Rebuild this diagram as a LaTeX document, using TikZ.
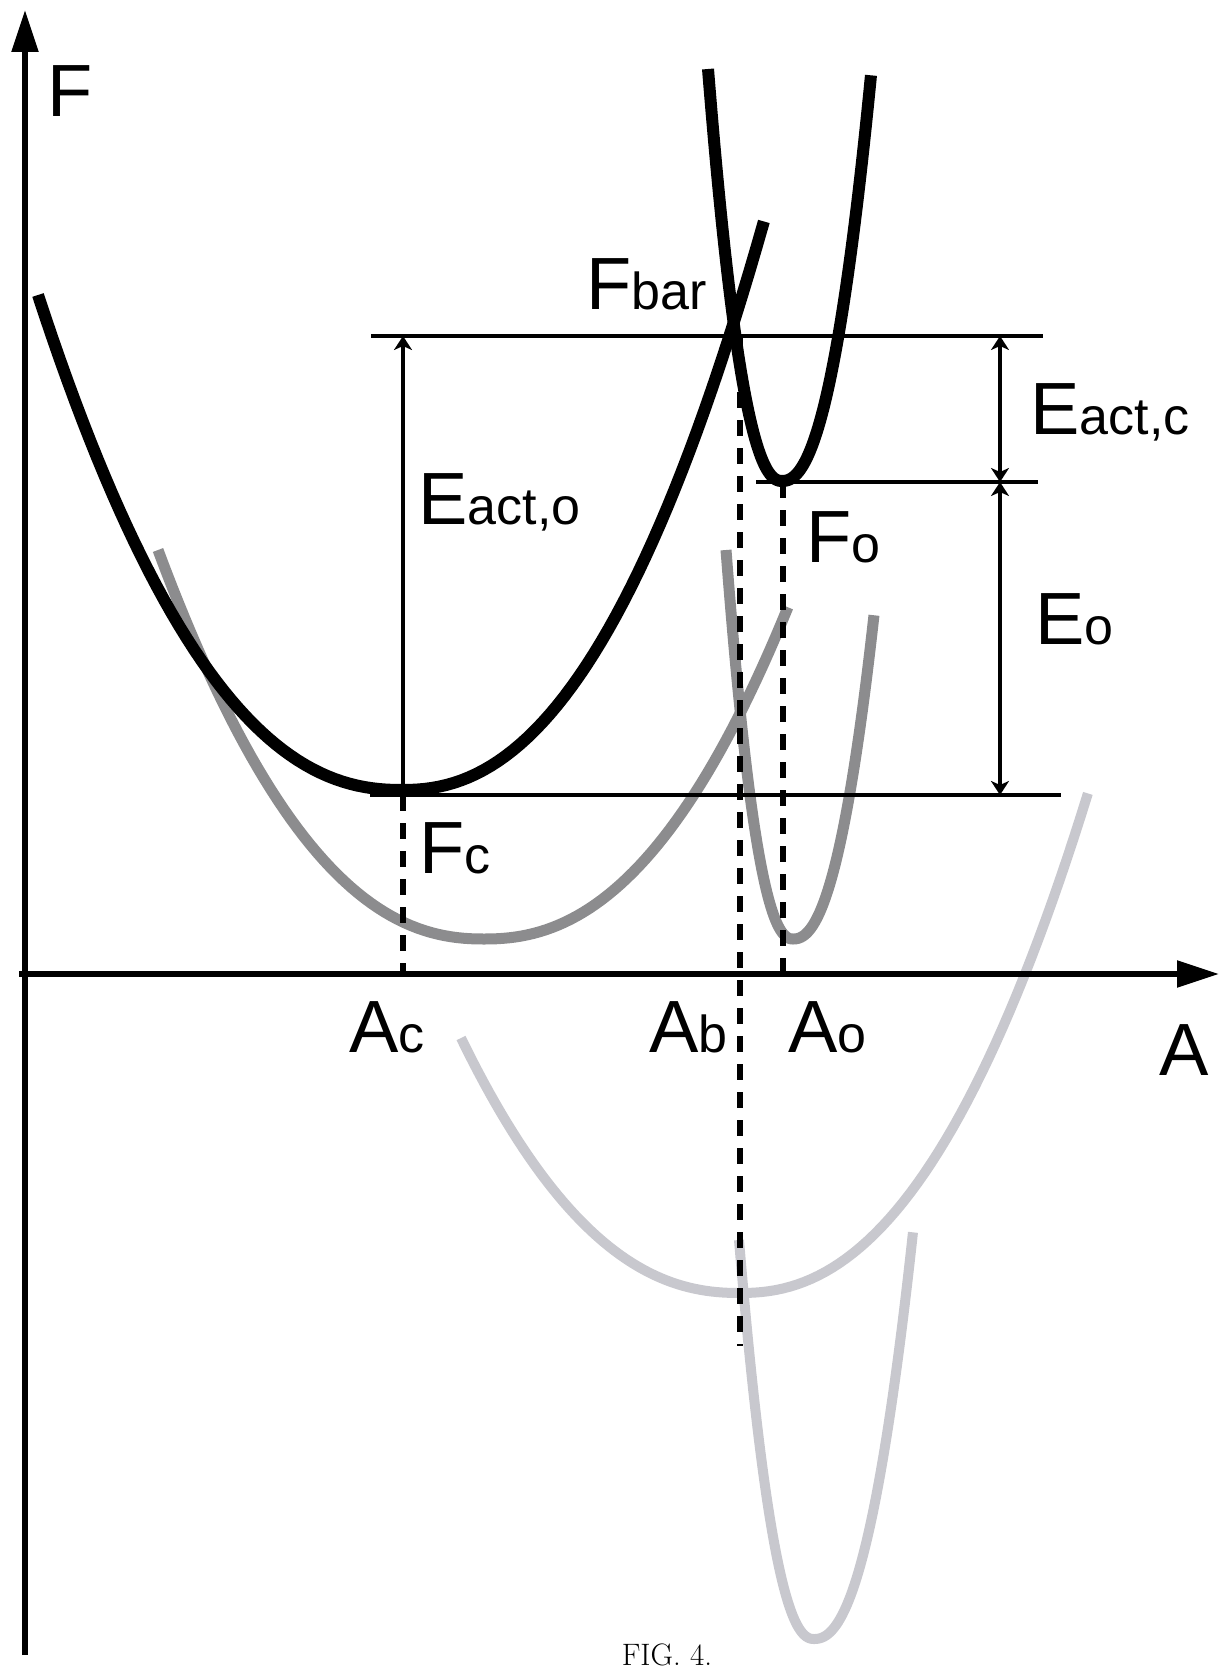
\documentclass[tikz,border=0pt]{standalone}
\usepackage{fontspec}
\newfontfamily\labfont{Liberation Sans}
\usetikzlibrary{arrows.meta}
\definecolor{midgray}{HTML}{8C8C8E}
\definecolor{lightgraytwo}{HTML}{C8C8CE}
\newcommand{\lsub}[1]{{\fontsize{26}{28}\selectfont #1}}
% asymmetric well: #1 style, xl,yl, xm,ym, xr,yr
\newcommand{\well}[7]{%
  \draw[#1] plot[domain=0:1,samples=50,variable=\t]
    ({#2+(#4-#2)*\t},{#5-(#5-#3)*(1-\t)^2*sqrt(sqrt(abs(1-\t)))})
    -- plot[domain=0:1,samples=50,variable=\t]
    ({#4+(#6-#4)*\t},{#5-(#5-#7)*\t^2*sqrt(sqrt(\t))});}
\begin{document}
\begin{tikzpicture}[x=0.5pt,y=-0.5pt,
  axisarrow/.style={line width=2.75pt,-{Triangle[length=21pt,width=13pt]}},
  thinline/.style={line width=2pt},
  uparrow/.style={line width=1.8pt,-{Stealth[length=7pt,width=9pt,inset=2pt]}},
  dimarrow/.style={line width=1.8pt,{Stealth[length=7pt,width=9pt,inset=2pt]}-{Stealth[length=7pt,width=9pt,inset=2pt]}},
  dashline/.style={line width=2.75pt,dash pattern=on 8pt off 6pt},
  blackcurve/.style={line width=6pt,black},
  midcurve/.style={line width=5.5pt,draw=midgray},
  lightcurve/.style={line width=5pt,draw=lightgraytwo},
  lab/.style={inner sep=0pt,anchor=base west,font=\labfont\fontsize{37}{40}\selectfont},
]
\useasboundingbox (0,0) rectangle (1225,1669);

% curves
\well{lightcurve}{461}{1038}{740}{1293}{1088}{793}
\well{lightcurve}{739}{1240}{814}{1639}{913}{1232}
\well{midcurve}{158}{550}{484}{939}{788}{607}
\well{midcurve}{726}{550}{793}{939}{874}{615}
\well{blackcurve}{38}{295}{402}{790}{764}{221}
\well{blackcurve}{708}{69}{782}{481}{871}{75}

% coordinates
\coordinate (ybot) at (25,1655);
\coordinate (ytop) at (25,10);
\coordinate (xleft) at (19,974);
\coordinate (xright) at (1219,974);
\coordinate (barL) at (371,336);
\coordinate (barR) at (1043,336);
\coordinate (foL) at (756,482);
\coordinate (foR) at (1038,482);
\coordinate (fcL) at (370,795);
\coordinate (fcR) at (1061,795);
\coordinate (eoB) at (403,795);
\coordinate (eoT) at (403,336);
\coordinate (dT) at (1000,336);
\coordinate (dM) at (1000,482);
\coordinate (dB) at (1000,795);
\coordinate (acT) at (403,795);
\coordinate (acB) at (403,974);
\coordinate (abT) at (740,336);
\coordinate (abB) at (740,1346);
\coordinate (aoT) at (783,482);
\coordinate (aoB) at (783,974);

% axes
\draw[axisarrow] (ybot) -- (ytop);
\draw[axisarrow] (xleft) -- (xright);

% level lines
\draw[thinline] (barL) -- (barR);
\draw[thinline] (foL) -- (foR);
\draw[thinline] (fcL) -- (fcR);

% energy arrows
\draw[uparrow] (eoB) -- (eoT);
\draw[dimarrow] (dT) -- (dM);
\draw[dimarrow] (dM) -- (dB);

% dashed
\draw[dashline] (acT) -- (acB);
\draw[dashline] (abT) -- (abB);
\draw[dashline] (aoT) -- (aoB);

% labels
\node[lab] (lF) at (47,117) {F};
\node[lab] (lA) at (1159,1075) {A};
\node[lab] (lFbar) at (586,309) {F\lsub{bar}};
\node[lab] (lEacto) at (418,524) {E\lsub{act,o}};
\node[lab] (lEactc) at (1030,434) {E\lsub{act,c}};
\node[lab] (lFo) at (806,562) {F\lsub{o}};
\node[lab] (lEo) at (1035,644) {E\lsub{o}};
\node[lab] (lFc) at (419,873) {F\lsub{c}};
\node[lab] (lAc) at (349,1052) {A\lsub{c}};
\node[lab] (lAb) at (649,1052) {A\lsub{b}};
\node[lab] (lAo) at (788,1052) {A\lsub{o}};

\node[inner sep=0pt,anchor=base,font=\fontsize{15.5}{18}\selectfont] (cap) at (667,1665) {FIG. 4.};
\end{tikzpicture}
\end{document}
